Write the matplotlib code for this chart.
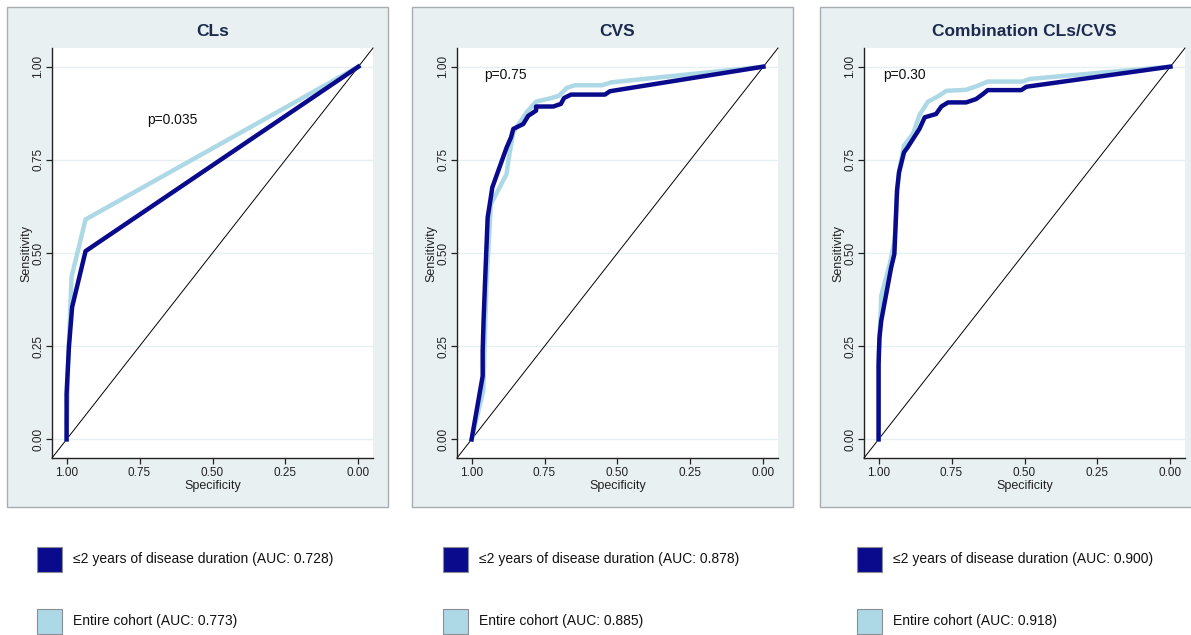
import matplotlib
matplotlib.use("Agg")
import matplotlib.pyplot as plt
from matplotlib.patches import Rectangle

plt.rcParams['font.family'] = ['Liberation Sans', 'DejaVu Sans']

# ---------------- data ----------------
titles = ["CLs", "CVS", "Combination CLs/CVS"]
p_texts = ["p=0.035", "p=0.75", "p=0.30"]
p_pos = [(0.725, 0.858), (0.958, 0.978), (0.983, 0.978)]

legend_early = ["\u22642 years of disease duration (AUC: 0.728)",
                "\u22642 years of disease duration (AUC: 0.878)",
                "\u22642 years of disease duration (AUC: 0.900)"]
legend_all = ["Entire cohort (AUC: 0.773)",
              "Entire cohort (AUC: 0.885)",
              "Entire cohort (AUC: 0.918)"]

# CLs
cls_early_spec = [1.0, 1.0, 0.992, 0.981, 0.935, 0.0]
cls_early_sens = [0.0, 0.123, 0.248, 0.355, 0.505, 1.0]
cls_all_spec = [1.0, 0.995, 0.983, 0.935, 0.0]
cls_all_sens = [0.0, 0.20, 0.436, 0.59, 1.0]

# CVS
cvs_early_spec = [1.0, 0.962, 0.962, 0.959, 0.954, 0.945, 0.934, 0.929, 0.880, 0.865,
                  0.857, 0.823, 0.806, 0.779, 0.779, 0.720, 0.694, 0.683, 0.659, 0.543,
                  0.526, 0.0]
cvs_early_sens = [0.0, 0.170, 0.237, 0.318, 0.420, 0.595, 0.650, 0.676, 0.783, 0.810,
                  0.833, 0.846, 0.868, 0.882, 0.893, 0.893, 0.900, 0.916, 0.925, 0.925,
                  0.934, 1.0]
cvs_all_spec = [1.0, 0.960, 0.949, 0.934, 0.886, 0.880, 0.874, 0.857, 0.811, 0.779,
                0.726, 0.700, 0.674, 0.646, 0.554, 0.520, 0.0]
cvs_all_sens = [0.0, 0.130, 0.416, 0.631, 0.703, 0.712, 0.748, 0.824, 0.878, 0.906,
                0.916, 0.922, 0.943, 0.950, 0.950, 0.958, 1.0]

# Combination
comb_early_spec = [1.0, 1.0, 0.997, 0.991, 0.957, 0.946, 0.940, 0.937, 0.930, 0.913,
                   0.900, 0.860, 0.842, 0.803, 0.785, 0.762, 0.700, 0.666, 0.643, 0.626,
                   0.511, 0.494, 0.0]
comb_early_sens = [0.0, 0.200, 0.273, 0.318, 0.461, 0.497, 0.604, 0.667, 0.716, 0.770,
                   0.784, 0.833, 0.864, 0.873, 0.893, 0.904, 0.904, 0.913, 0.926, 0.937,
                   0.937, 0.946, 1.0]
comb_all_spec = [1.0, 1.0, 0.993, 0.991, 0.962, 0.945, 0.940, 0.930, 0.913, 0.882,
                 0.860, 0.831, 0.797, 0.768, 0.700, 0.666, 0.626, 0.506, 0.483, 0.0]
comb_all_sens = [0.0, 0.228, 0.336, 0.385, 0.470, 0.533, 0.622, 0.720, 0.788, 0.820,
                 0.870, 0.906, 0.920, 0.935, 0.938, 0.947, 0.960, 0.960, 0.967, 1.0]

early = [(cls_early_spec, cls_early_sens), (cvs_early_spec, cvs_early_sens),
         (comb_early_spec, comb_early_sens)]
allc = [(cls_all_spec, cls_all_sens), (cvs_all_spec, cvs_all_sens),
        (comb_all_spec, comb_all_sens)]
ticks = [0.0, 0.25, 0.5, 0.75, 1.0]
tick_labels = ["0.00", "0.25", "0.50", "0.75", "1.00"]

# ---------------- style ----------------
NAVY = "#0a0a8c"
LIGHT = "#add8e6"
PANEL_BG = "#e9f0f2"
PANEL_EDGE = "#a8adb0"
TITLE_C = "#1c2a4e"
GRID_C = "#e6f0f2"

W, H = 1191, 635
fig = plt.figure(figsize=(W / 100, H / 100), dpi=100)
fig.patch.set_facecolor("white")

panel_boxes = [(7, 388), (412, 793), (820, 1200)]
axes_px = [(52, 373), (457, 778), (864, 1185)]
legend_sq = [37, 443, 857]
ax_top, ax_bot = 48, 458

def fx(px):
    return px / W

def fy(py):
    return 1 - py / H

for i in range(3):
    x0, x1 = panel_boxes[i]
    fig.patches.append(Rectangle((fx(x0), fy(507)), fx(x1 - x0), (507 - 7) / H,
                                 transform=fig.transFigure, facecolor=PANEL_BG,
                                 edgecolor=PANEL_EDGE, linewidth=1.0, zorder=-5))
    a0, a1 = axes_px[i]
    ax = fig.add_axes([fx(a0), fy(ax_bot), fx(a1 - a0), (ax_bot - ax_top) / H])
    ax.set_zorder(1)
    ax.set_facecolor("white")
    ax.set_xlim(1.05, -0.05)
    ax.set_ylim(-0.05, 1.05)
    ax.set_xticks(ticks)
    ax.set_xticklabels(tick_labels)
    ax.set_yticks(ticks)
    ax.set_yticklabels(tick_labels, rotation=90, va="center")
    for yv in ticks:
        ax.axhline(yv, color=GRID_C, lw=1.0, zorder=0.5)
    ax.spines["top"].set_visible(False)
    ax.spines["right"].set_visible(False)
    for s in ("left", "bottom"):
        ax.spines[s].set_linewidth(1.0)
        ax.spines[s].set_color("#222222")
    ax.tick_params(direction="out", length=4, width=0.9, labelsize=8.5,
                   colors="#222222")
    ax.tick_params(axis="x", pad=2.5)
    ax.tick_params(axis="y", pad=1.5)
    ax.plot([1.05, -0.05], [-0.05, 1.05], color="black", lw=0.7, zorder=2,
            clip_on=False)
    sp, se = allc[i]
    ax.plot(sp, se, color=LIGHT, lw=3.2, solid_joinstyle="round", zorder=3)
    sp, se = early[i]
    ax.plot(sp, se, color=NAVY, lw=3.2, solid_joinstyle="round", zorder=4)
    ax.text(p_pos[i][0], p_pos[i][1], p_texts[i], fontsize=10, ha="left",
            va="center", color="#111111")
    ax.set_title(titles[i], fontsize=12.5, fontweight="bold", color=TITLE_C, pad=9)
    ax.set_xlabel("Specificity", fontsize=9, labelpad=1, color="#222222")
    ax.set_ylabel("Sensitivity", fontsize=9, labelpad=0, color="#222222")

    # legend
    sx = legend_sq[i]
    for (yt, col, lab) in [(547, NAVY, legend_early[i]), (609, LIGHT, legend_all[i])]:
        fig.patches.append(Rectangle((fx(sx), fy(yt + 25)), fx(25), 25 / H,
                                     transform=fig.transFigure, facecolor=col,
                                     edgecolor="#8a8f94", linewidth=0.8, zorder=-4))
        fig.text(fx(sx + 36), fy(yt + 12.5), lab, fontsize=10, ha="left",
                 va="center", color="#111111")

fig.savefig("out.png", dpi=100, facecolor="white")
